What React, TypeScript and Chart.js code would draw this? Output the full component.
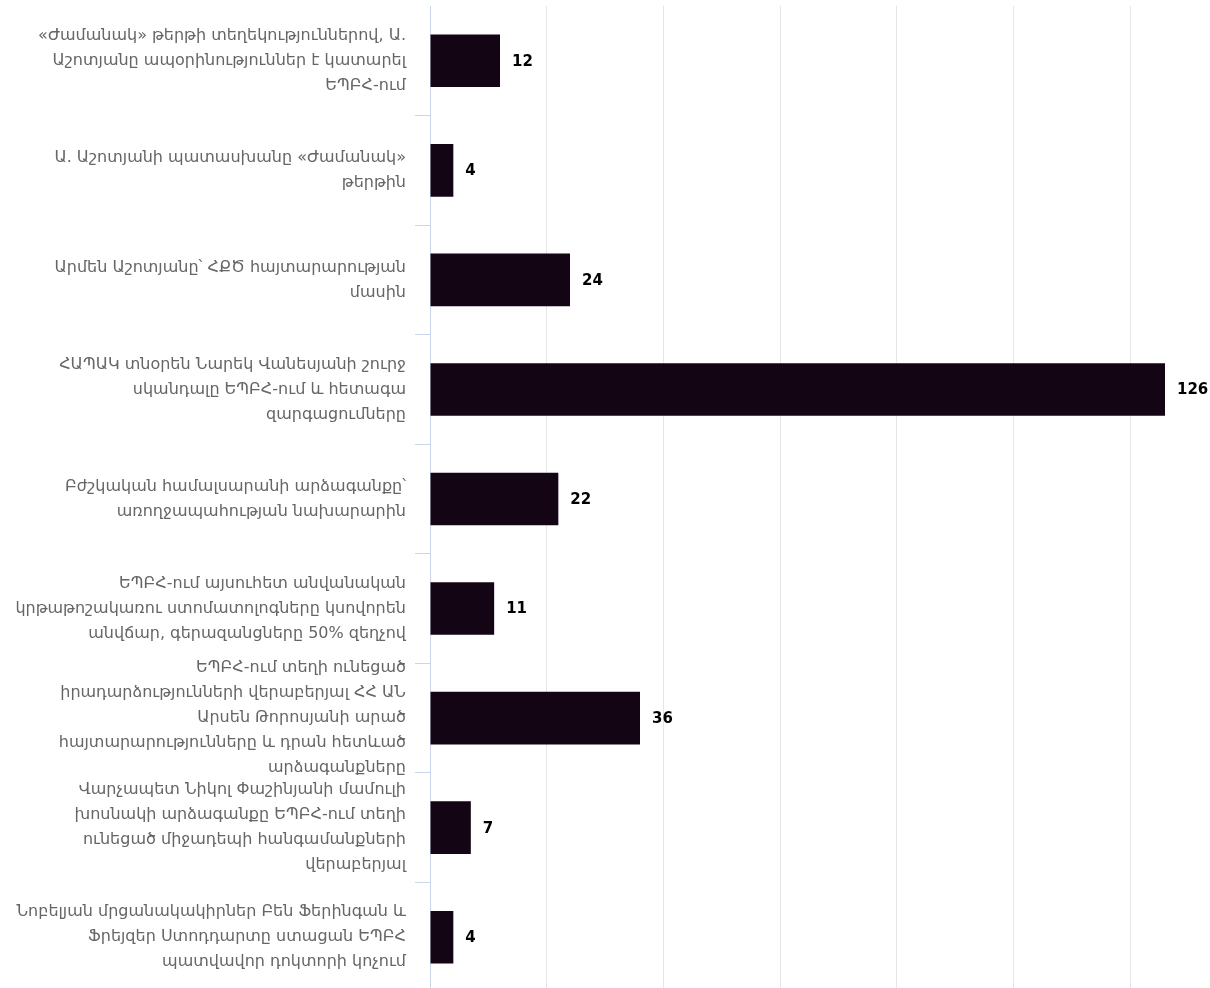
import React, { useEffect, useRef } from "react";
import { Chart, registerables } from "chart.js";

Chart.register(...registerables);

const CATEGORIES: string[][] = [
  ["«Ժամանակ» թերթի տեղեկություններով, Ա.", "Աշոտյանը ապօրինություններ է կատարել", "ԵՊԲՀ-ում"],
  ["Ա. Աշոտյանի պատասխանը «Ժամանակ»", "թերթին"],
  ["Արմեն Աշոտյանը՝ ՀՔԾ հայտարարության", "մասին"],
  ["ՀԱՊԱԿ տնօրեն Նարեկ Վանեսյանի շուրջ", "սկանդալը ԵՊԲՀ-ում և հետագա", "զարգացումները"],
  ["Բժշկական համալսարանի արձագանքը՝", "առողջապահության նախարարին"],
  ["ԵՊԲՀ-ում այսուհետ անվանական", "կրթաթոշակառու ստոմատոլոգները կսովորեն", "անվճար, գերազանցները 50% զեղչով"],
  ["ԵՊԲՀ-ում տեղի ունեցած", "իրադարձությունների վերաբերյալ ՀՀ ԱՆ", "Արսեն Թորոսյանի արած", "հայտարարությունները և դրան հետևած", "արձագանքները"],
  ["Վարչապետ Նիկոլ Փաշինյանի մամուլի", "խոսնակի արձագանքը ԵՊԲՀ-ում տեղի", "ունեցած միջադեպի հանգամանքների", "վերաբերյալ"],
  ["Նոբելյան մրցանակակիրներ Բեն Ֆերինգան և", "Ֆրեյզեր Ստոդդարտը ստացան ԵՊԲՀ", "պատվավոր դոկտորի կոչում"],
];

const VALUES: number[] = [12, 4, 24, 126, 22, 11, 36, 7, 4];

const X_TICKS: number[] = [0, 20, 40, 60, 80, 100, 120];
const X_MAX = 132;

const FONT = "'DejaVu Sans', Verdana, sans-serif";

const valueLabels = {
  id: "valueLabels",
  afterDatasetsDraw(chart: any) {
    const ctx = chart.ctx;
    const meta = chart.getDatasetMeta(0);
    ctx.save();
    ctx.font = `bold 15px ${FONT}`;
    ctx.fillStyle = "#000000";
    ctx.textAlign = "left";
    ctx.textBaseline = "middle";
    meta.data.forEach((bar: any, i: number) => {
      const v = chart.data.datasets[0].data[i];
      ctx.fillText(String(v), bar.x + 12, bar.y + 1);
    });
    ctx.restore();
  },
};

export default function App() {
  const ref = useRef<HTMLCanvasElement | null>(null);

  useEffect(() => {
    if (!ref.current) return;
    const chart = new Chart(ref.current, {
      type: "bar",
      data: {
        labels: CATEGORIES,
        datasets: [
          {
            data: VALUES,
            backgroundColor: "#140514",
            borderWidth: 0,
            categoryPercentage: 0.6,
            barPercentage: 0.8,
          },
        ],
      },
      options: {
        indexAxis: "y",
        animation: false,
        responsive: false,
        devicePixelRatio: 1,
        layout: { padding: { top: 6, bottom: 8, right: 10, left: 0 } },
        plugins: {
          legend: { display: false },
          tooltip: { enabled: false },
          title: { display: false },
        },
        scales: {
          x: {
            min: 0,
            max: X_MAX,
            afterBuildTicks: (scale: any) => {
              scale.ticks = X_TICKS.map((v) => ({ value: v }));
            },
            afterFit: (scale: any) => {
              scale.paddingLeft = 0;
              scale.paddingRight = 0;
            },
            ticks: { display: false },
            grid: {
              drawTicks: false,
              color: (c: any) => (c.tick && c.tick.value === 0 ? "rgba(0,0,0,0)" : "#e6e6e6"),
              lineWidth: 1,
            },
            border: { display: false },
          },
          y: {
            afterFit: (scale: any) => {
              scale.width = 430;
              scale.paddingTop = 0;
              scale.paddingBottom = 0;
            },
            ticks: {
              autoSkip: false,
              color: "#666666",
              padding: 9,
              font: { family: FONT, size: 16, lineHeight: "25px" } as any,
            },
            grid: {
              drawOnChartArea: false,
              drawTicks: true,
              tickLength: 15,
              color: (c: any) => (c.index === 0 ? "rgba(0,0,0,0)" : "#ccd6eb"),
              lineWidth: 1,
            },
            border: { display: true, color: "#ccd6eb", width: 1 },
          },
        },
      },
      plugins: [valueLabels],
    });
    return () => chart.destroy();
  }, []);

  return (
    <div style={{ position: "absolute", left: 0, top: 0, width: 1210, height: 988, overflow: "hidden", background: "#fff" }}>
      <canvas ref={ref} width={1210} height={1000} style={{ display: "block" }} />
    </div>
  );
}
